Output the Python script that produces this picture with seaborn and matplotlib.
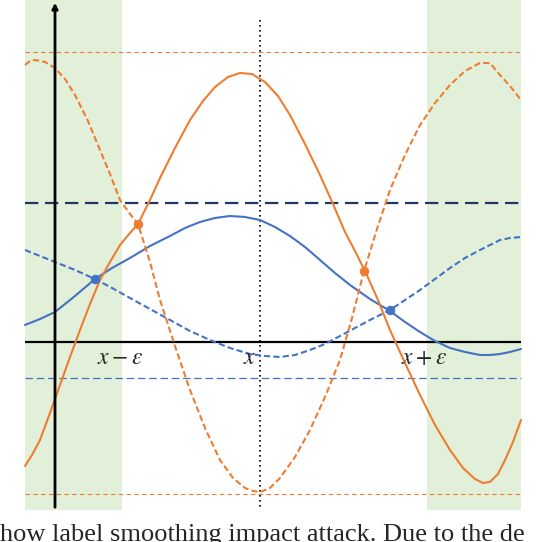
import matplotlib
matplotlib.use("Agg")
import matplotlib.pyplot as plt
import seaborn as sns
import pandas as pd

# values, in picture units (y grows downward)
blue_solid_x = [25, 40, 55, 75, 95, 112, 130, 150, 170, 185, 200, 215, 230, 245, 260, 275, 290, 305, 320, 335, 350, 370, 390, 405, 420, 435, 450, 465, 480, 490, 500, 510, 521]
blue_solid_y = [325, 319, 312, 296, 279, 268, 258, 246, 236, 228, 222, 218, 216, 217, 220, 227, 236, 247, 260, 273, 285, 299, 311, 322, 332, 341, 348, 352, 355, 355, 354, 352, 349]

blue_dash_x = [25, 40, 55, 75, 95, 112, 130, 150, 170, 190, 210, 230, 250, 265, 280, 295, 310, 325, 340, 355, 370, 390, 405, 420, 435, 450, 465, 480, 490, 500, 510, 521]
blue_dash_y = [250, 256, 262, 270, 279, 288, 298, 309, 320, 331, 340, 348, 354, 356, 357, 355, 350, 344, 336, 328, 320, 310, 300, 290, 279, 268, 258, 250, 245, 240, 238, 237]

orange_solid_x = [25, 32, 40, 50, 60, 70, 80, 90, 100, 110, 120, 130, 138, 150, 160, 175, 190, 203, 215, 228, 240, 252, 265, 278, 290, 305, 320, 333, 345, 355, 365, 378, 390, 405, 420, 435, 450, 463, 475, 483, 490, 498, 505, 513, 521]
orange_solid_y = [466, 455, 440, 413, 385, 357, 330, 304, 280, 262, 245, 233, 224, 200, 178, 148, 120, 101, 87, 77, 73, 74, 82, 96, 115, 144, 175, 204, 232, 251, 271, 300, 330, 363, 395, 425, 450, 468, 479, 483, 482, 474, 460, 442, 420]

orange_dash_x = [25, 30, 35, 45, 55, 65, 75, 88, 100, 110, 120, 130, 138, 150, 160, 175, 190, 205, 220, 233, 245, 253, 260, 270, 280, 295, 310, 325, 340, 352, 364, 377, 390, 405, 420, 435, 450, 465, 480, 490, 500, 510, 521]
orange_dash_y = [65, 61, 60, 62, 68, 79, 95, 121, 150, 174, 200, 214, 224, 262, 300, 346, 390, 428, 460, 478, 488, 491, 492, 488, 478, 457, 430, 397, 360, 318, 271, 229, 190, 155, 125, 103, 85, 71, 63, 63, 75, 86, 100]

orange_dots_x = [138, 364]
orange_dots_y = [224, 271]
blue_dots_x = [95, 390]
blue_dots_y = [279, 310]

tick_x = [120, 250, 424]
tick_labels = [r"$x-\varepsilon$", r"$x$", r"$x+\varepsilon$"]

ORANGE = "#ED7D31"
BLUE = "#4472C4"
NAVY = "#203864"
GREEN = "#e2efd9"

sns.set_style("white")
plt.rcParams["mathtext.fontset"] = "stix"

fig = plt.figure(figsize=(5.56, 5.42), dpi=100)
ax = fig.add_axes([0, 0, 1, 1])
ax.set_xlim(0, 556)
ax.set_ylim(542, 0)
ax.axis("off")

# shaded regions
ax.axvspan(25, 122, ymin=1 - 510 / 542, ymax=1, color=GREEN, lw=0, zorder=0)
ax.axvspan(427, 521, ymin=1 - 510 / 542, ymax=1, color=GREEN, lw=0, zorder=0)

# horizontal reference lines
ax.hlines(52, 25, 521, colors=ORANGE, ls=(0, (4, 3)), lw=0.8)
ax.hlines(494, 25, 521, colors=ORANGE, ls=(0, (4, 3)), lw=0.8)
ax.hlines(378, 25, 521, colors=BLUE, ls=(0, (6, 3)), lw=0.9)
ax.hlines(203, 25, 521, colors=NAVY, ls=(0, (6, 3)), lw=1.6)

# axes
ax.hlines(342, 25, 521, colors="black", lw=1.6)
ax.annotate("", xy=(55, 0), xytext=(55, 510),
            arrowprops=dict(arrowstyle="-|>", color="black", lw=2, mutation_scale=8))
ax.vlines(260, 20, 510, colors="black", ls=(0, (1, 2)), lw=1.2)

curves = [
    (blue_solid_x, blue_solid_y, BLUE, "-", 1.5),
    (blue_dash_x, blue_dash_y, BLUE, (0, (3, 1.5)), 1.5),
    (orange_solid_x, orange_solid_y, ORANGE, "-", 1.5),
    (orange_dash_x, orange_dash_y, ORANGE, (0, (3, 1.5)), 1.5),
]
for xs, ys, c, ls, lw in curves:
    df = pd.DataFrame({"x": xs, "y": ys})
    sns.lineplot(data=df, x="x", y="y", ax=ax, color=c, linestyle=ls, lw=lw, sort=False)

sns.scatterplot(x=orange_dots_x, y=orange_dots_y, ax=ax, color=ORANGE, s=40, edgecolor=ORANGE, zorder=5)
sns.scatterplot(x=blue_dots_x, y=blue_dots_y, ax=ax, color=BLUE, s=40, edgecolor=BLUE, zorder=5)

for tx, tl in zip(tick_x, tick_labels):
    ax.text(tx, 357, tl, fontsize=17, ha="center", va="center")

ax.text(0, 535, "how label smoothing impact attack. Due to the de",
        fontsize=19, family="Liberation Serif", va="center", ha="left")

fig.savefig("out.png", dpi=100)
